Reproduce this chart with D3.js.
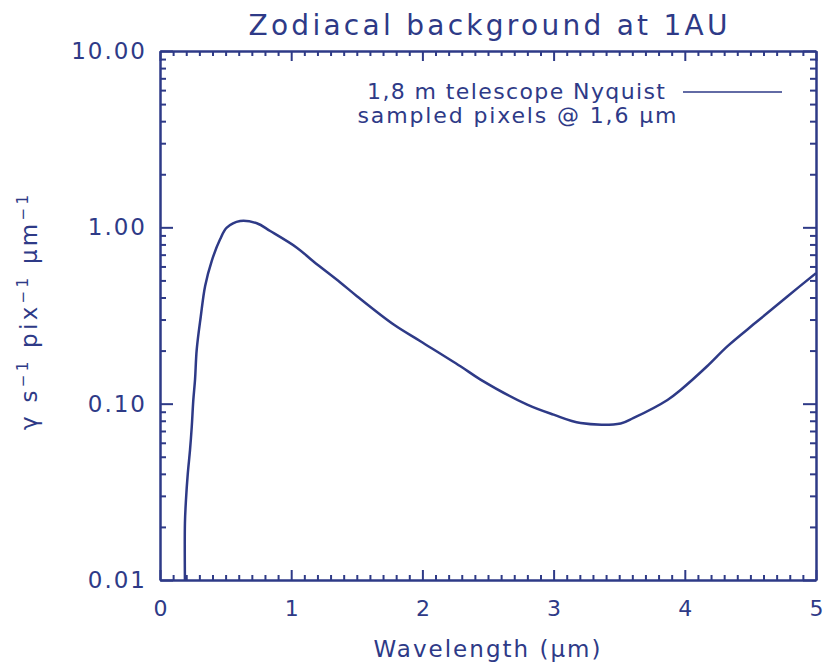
<!DOCTYPE html>
<html>
<head>
<meta charset="utf-8">
<script src="https://cdn.jsdelivr.net/npm/d3@7/dist/d3.min.js"></script>
<style>
body{margin:0;background:#fff;}
svg text{font-family:"DejaVu Sans",sans-serif;fill:#2e3a87;}
</style>
</head>
<body>
<svg id="chart"></svg>
<script>
width=838;
height=665;
var ink="#2e3a87";

// wavelength (um) and zodiacal rate
var wavelength=[0.19,0.19,0.198,0.211,0.229,0.242,0.254,0.267,0.28,0.311,0.344,0.394,0.458,0.509,0.611,0.738,0.84,1.043,1.17,1.374,1.501,1.781,1.985,2.29,2.443,2.799,3.0,3.206,3.511,3.61,3.868,3.97,4.17,4.326,4.555,4.784,5.0];
var rate=[0.01,0.021,0.0285,0.0395,0.0548,0.074,0.105,0.137,0.203,0.313,0.465,0.644,0.855,0.996,1.087,1.054,0.953,0.767,0.64,0.487,0.407,0.281,0.226,0.163,0.137,0.0987,0.0866,0.0776,0.0772,0.083,0.105,0.12,0.163,0.212,0.294,0.407,0.55];
var xTicks=[0,1,2,3,4,5];
var yTicks=[0.01,0.1,1,10];
var title="Zodiacal background at 1AU";
var legendLines=["1,8 m telescope Nyquist","sampled pixels @ 1,6 \u03bcm"];

var m={left:160,right:22,top:51,bottom:85};
var w=width-m.left-m.right, h=height-m.top-m.bottom;

var svg=d3.select("#chart").attr("width",width).attr("height",height);
var g=svg.append("g").attr("transform","translate("+m.left+","+m.top+")");

var x=d3.scaleLinear().domain([0,5]).range([0,w]);
var y=d3.scaleLog().domain([0.01,10]).range([h,0]);

var xMinor=d3.range(0,50).map(function(i){return i/10}).filter(function(v){return Math.abs(v-Math.round(v))>1e-6});
var yMinor=[];
[0.01,0.1,1].forEach(function(d){for(k=2;k<10;k++){yMinor.push(d*k)}});

function styleAxis(sel){
    sel.selectAll("path,line").attr("stroke",ink).attr("stroke-width",2);
    sel.selectAll("text").attr("fill",ink).style("font-size","22px");
}

// bottom
g.append("g").attr("transform","translate(0,"+h+")")
    .call(d3.axisBottom(x).tickValues(xTicks).tickSizeInner(-10).tickSizeOuter(0).tickPadding(20).tickFormat(d3.format("d")))
    .call(styleAxis);
g.append("g").attr("transform","translate(0,"+h+")")
    .call(d3.axisBottom(x).tickValues(xMinor).tickSizeInner(-5).tickSizeOuter(0).tickFormat(""))
    .call(styleAxis);
// top
g.append("g")
    .call(d3.axisTop(x).tickValues(xTicks).tickSizeInner(-10).tickSizeOuter(0).tickFormat(""))
    .call(styleAxis);
g.append("g")
    .call(d3.axisTop(x).tickValues(xMinor).tickSizeInner(-5).tickSizeOuter(0).tickFormat(""))
    .call(styleAxis);
// left
var yAxisG=g.append("g")
    .call(d3.axisLeft(y).tickValues(yTicks).tickSizeInner(-13).tickSizeOuter(0).tickPadding(13).tickFormat(d3.format(".2f")))
    .call(styleAxis);
yAxisG.selectAll(".tick text").style("font-size","23px").style("letter-spacing","2px");
g.append("g")
    .call(d3.axisLeft(y).tickValues(yMinor).tickSizeInner(-6).tickSizeOuter(0).tickFormat(""))
    .call(styleAxis);
// right
g.append("g").attr("transform","translate("+w+",0)")
    .call(d3.axisRight(y).tickValues(yTicks).tickSizeInner(-13).tickSizeOuter(0).tickFormat(""))
    .call(styleAxis);
g.append("g").attr("transform","translate("+w+",0)")
    .call(d3.axisRight(y).tickValues(yMinor).tickSizeInner(-6).tickSizeOuter(0).tickFormat(""))
    .call(styleAxis);

// curve
svg.append("defs").append("clipPath").attr("id","clip")
    .append("rect").attr("width",w).attr("height",h);
var pts=wavelength.map(function(d,i){return [d,rate[i]]});
var line=d3.line()
    .x(function(d){return x(d[0])})
    .y(function(d){return y(d[1])})
    .curve(d3.curveCatmullRom.alpha(0.5));
g.append("path").datum(pts)
    .attr("clip-path","url(#clip)")
    .attr("d",line)
    .attr("fill","none")
    .attr("stroke",ink)
    .attr("stroke-width",2.5);

// title
svg.append("text").attr("x",m.left+w/2).attr("y",35)
    .attr("text-anchor","middle").style("font-size","28px")
    .attr("textLength",479).attr("lengthAdjust","spacing").text(title);

// legend
svg.append("text").attr("x",516).attr("y",99).attr("text-anchor","middle")
    .style("font-size","22px").attr("textLength",298).attr("lengthAdjust","spacing").text(legendLines[0]);
svg.append("text").attr("x",517).attr("y",123).attr("text-anchor","middle")
    .style("font-size","22px").attr("textLength",319).attr("lengthAdjust","spacing").text(legendLines[1]);
svg.append("line").attr("x1",683).attr("x2",782).attr("y1",92).attr("y2",92)
    .attr("stroke",ink).attr("stroke-width",1.5);

// axis titles
svg.append("text").attr("x",487).attr("y",657)
    .attr("text-anchor","middle").style("font-size","23px")
    .attr("textLength",227).attr("lengthAdjust","spacing").text("Wavelength (\u03bcm)");

var yl=svg.append("text")
    .attr("transform","translate(37,"+(m.top+h/2-3)+") rotate(-90)")
    .attr("text-anchor","middle").style("font-size","23px")
    .attr("textLength",235).attr("lengthAdjust","spacing");
yl.append("tspan").text("\u03b3 s");
yl.append("tspan").attr("baseline-shift","super").style("font-size","15px").text("\u22121");
yl.append("tspan").text(" pix");
yl.append("tspan").attr("baseline-shift","super").style("font-size","15px").text("\u22121");
yl.append("tspan").text(" \u03bcm");
yl.append("tspan").attr("baseline-shift","super").style("font-size","15px").text("\u22121");
</script>
</body>
</html>
